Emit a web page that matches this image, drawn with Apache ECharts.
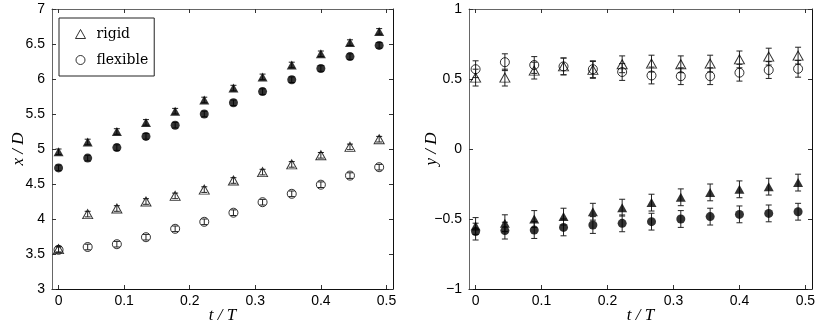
<!DOCTYPE html>
<html>
<head>
<meta charset="utf-8">
<script src="https://cdn.jsdelivr.net/npm/echarts@6/dist/echarts.min.js"></script>
<style>
  html, body { margin: 0; padding: 0; background: #fff; }
  #chart { width: 831px; height: 333px; }
</style>
</head>
<body>
<div id="chart"></div>
<script>
// time instants t/T
const tT = [0, 0.0444, 0.0889, 0.1333, 0.1778, 0.2222, 0.2667, 0.3111, 0.3556, 0.4, 0.4444, 0.4889]
const xTicks = [0, 0.1, 0.2, 0.3, 0.4, 0.5]
const xDTicks = [3, 3.5, 4, 4.5, 5, 5.5, 6, 6.5, 7]
const yDTicks = [-1, -0.5, 0, 0.5, 1]

// left panel: x/D
const xRigidFilled = [4.96, 5.10, 5.25, 5.38, 5.54, 5.70, 5.87, 6.03, 6.20, 6.36, 6.52, 6.68]
const xFlexFilled = [4.73, 4.87, 5.02, 5.18, 5.34, 5.50, 5.66, 5.82, 5.99, 6.15, 6.32, 6.48]
const xRigidOpen = [3.57, 4.07, 4.15, 4.25, 4.33, 4.42, 4.55, 4.67, 4.78, 4.91, 5.03, 5.14]
const xFlexOpen = [3.56, 3.60, 3.64, 3.74, 3.86, 3.96, 4.09, 4.24, 4.36, 4.49, 4.62, 4.74]
const xRigidFilledErr = [0.04, 0.04, 0.04, 0.04, 0.04, 0.04, 0.04, 0.04, 0.04, 0.04, 0.04, 0.04]
const xFlexFilledErr = [0.04, 0.04, 0.04, 0.04, 0.04, 0.04, 0.04, 0.04, 0.04, 0.04, 0.04, 0.04]
const xRigidOpenErr = [0.04, 0.04, 0.04, 0.04, 0.04, 0.04, 0.04, 0.04, 0.04, 0.04, 0.04, 0.04]
const xFlexOpenErr = [0.04, 0.04, 0.04, 0.04, 0.04, 0.04, 0.04, 0.04, 0.04, 0.04, 0.04, 0.04]

// right panel: y/D
const yRigidOpen = [0.51, 0.51, 0.56, 0.59, 0.565, 0.605, 0.61, 0.605, 0.61, 0.64, 0.66, 0.667]
const yFlexOpen = [0.57, 0.62, 0.60, 0.59, 0.57, 0.55, 0.525, 0.52, 0.52, 0.545, 0.564, 0.573]
const yRigidFilled = [-0.55, -0.53, -0.50, -0.483, -0.448, -0.419, -0.383, -0.345, -0.31, -0.288, -0.269, -0.24]
const yFlexFilled = [-0.59, -0.583, -0.579, -0.56, -0.543, -0.531, -0.519, -0.5, -0.483, -0.467, -0.46, -0.448]
const yRigidOpenErr = [0.06, 0.06, 0.06, 0.06, 0.06, 0.06, 0.06, 0.06, 0.06, 0.06, 0.06, 0.06]
const yFlexOpenErr = [0.06, 0.06, 0.06, 0.06, 0.06, 0.06, 0.06, 0.06, 0.06, 0.06, 0.06, 0.06]
const yRigidFilledErr = [0.06, 0.06, 0.06, 0.06, 0.06, 0.06, 0.06, 0.06, 0.06, 0.06, 0.06, 0.06]
const yFlexFilledErr = [0.06, 0.06, 0.06, 0.06, 0.06, 0.06, 0.06, 0.06, 0.06, 0.06, 0.06, 0.06]

const chart = echarts.init(document.getElementById('chart'))

const tickFont = { fontFamily: '"Liberation Sans", Arial, sans-serif', fontSize: 14, color: '#000' }
const nameFont = { fontFamily: '"Liberation Serif", serif', fontStyle: 'italic', fontSize: 17, color: '#000' }
const minus = v => String(v).replace('-', '\u2212')

const xAxisFor = (grid, pos) => ({
  type: 'value',
  gridIndex: grid,
  position: pos,
  min: -0.01,
  max: 0.51,
  name: pos === 'bottom' ? 't / T' : '',
  nameLocation: 'middle',
  nameGap: 18,
  nameMoveOverlap: false,
  nameTextStyle: nameFont,
  axisLine: { show: true, onZero: false, lineStyle: { color: pos === 'bottom' ? '#111' : '#666', width: 1 } },
  axisTick: { show: true, inside: true, length: 4, customValues: xTicks, lineStyle: { color: '#333' } },
  axisLabel: { show: pos === 'bottom', margin: 5, customValues: xTicks, ...tickFont },
  splitLine: { show: false },
})

const yAxisFor = (grid, pos, ticks, name, gap) => ({
  type: 'value',
  gridIndex: grid,
  position: pos,
  min: ticks[0],
  max: ticks[ticks.length - 1],
  name: pos === 'left' ? name : '',
  nameLocation: 'middle',
  nameGap: gap,
  nameMoveOverlap: false,
  nameTextStyle: nameFont,
  axisLine: { show: true, onZero: false, lineStyle: { color: pos === 'left' ? '#666' : '#111', width: 1 } },
  axisTick: { show: true, inside: true, length: 4, customValues: ticks, lineStyle: { color: '#333' } },
  axisLabel: { show: pos === 'left', margin: 7, customValues: ticks, formatter: minus, ...tickFont },
  splitLine: { show: false },
})

const zip = (vals, errs) => tT.map((t, i) => [t, vals[i], errs[i]])

const errorBars = (xi, yi, vals, errs) => ({
  type: 'custom',
  xAxisIndex: xi,
  yAxisIndex: yi,
  silent: true,
  z: 1,
  data: zip(vals, errs),
  renderItem: (params, api) => {
    const x = api.value(0)
    const y = api.value(1)
    const e = api.value(2)
    const hi = api.coord([x, y + e])
    const lo = api.coord([x, y - e])
    const w = 3
    const style = { stroke: '#222', lineWidth: 1 }
    return {
      type: 'group',
      children: [
        { type: 'line', shape: { x1: hi[0], y1: hi[1], x2: lo[0], y2: lo[1] }, style },
        { type: 'line', shape: { x1: hi[0] - w, y1: hi[1], x2: hi[0] + w, y2: hi[1] }, style },
        { type: 'line', shape: { x1: lo[0] - w, y1: lo[1], x2: lo[0] + w, y2: lo[1] }, style },
      ],
    }
  },
})

const marks = (name, xi, yi, vals, errs, symbol, filled) => ({
  type: 'scatter',
  name,
  xAxisIndex: xi,
  yAxisIndex: yi,
  z: 3,
  symbol,
  symbolSize: symbol === 'triangle' ? [10, 9] : 9,
  data: zip(vals, errs),
  itemStyle: filled
    ? { color: '#000' }
    : { color: 'rgba(0,0,0,0)', borderColor: '#000', borderWidth: 1 },
})

const option = {
  animation: false,
  backgroundColor: '#fff',
  grid: [
    { left: 52, right: 438, top: 9, bottom: 44 },
    { left: 469, right: 19, top: 9, bottom: 44 },
  ],
  xAxis: [
    xAxisFor(0, 'bottom'),
    xAxisFor(0, 'top'),
    xAxisFor(1, 'bottom'),
    xAxisFor(1, 'top'),
  ],
  yAxis: [
    yAxisFor(0, 'left', xDTicks, 'x / D', 25),
    yAxisFor(0, 'right', xDTicks, '', 0),
    yAxisFor(1, 'left', yDTicks, 'y / D', 29),
    yAxisFor(1, 'right', yDTicks, '', 0),
  ],
  legend: {
    left: 59,
    top: 18,
    orient: 'vertical',
    backgroundColor: '#fff',
    borderColor: '#222',
    borderWidth: 1,
    padding: [9, 6, 9, 16],
    itemGap: 12,
    itemWidth: 10,
    itemHeight: 9,
    textStyle: { fontFamily: '"DejaVu Serif", serif', fontSize: 14, color: '#000', padding: [0, 0, 0, 6] },
    data: [
      { name: 'rigid', icon: 'triangle', itemStyle: { color: 'rgba(0,0,0,0)', borderColor: '#000', borderWidth: 1 } },
      { name: 'flexible', icon: 'circle', itemStyle: { color: 'rgba(0,0,0,0)', borderColor: '#000', borderWidth: 1 } },
    ],
  },
  series: [
    errorBars(0, 0, xRigidFilled, xRigidFilledErr),
    errorBars(0, 0, xFlexFilled, xFlexFilledErr),
    errorBars(0, 0, xRigidOpen, xRigidOpenErr),
    errorBars(0, 0, xFlexOpen, xFlexOpenErr),
    marks('rigid x', 0, 0, xRigidFilled, xRigidFilledErr, 'triangle', true),
    marks('flexible x', 0, 0, xFlexFilled, xFlexFilledErr, 'circle', true),
    marks('rigid', 0, 0, xRigidOpen, xRigidOpenErr, 'triangle', false),
    marks('flexible', 0, 0, xFlexOpen, xFlexOpenErr, 'circle', false),

    errorBars(2, 2, yRigidOpen, yRigidOpenErr),
    errorBars(2, 2, yFlexOpen, yFlexOpenErr),
    errorBars(2, 2, yRigidFilled, yRigidFilledErr),
    errorBars(2, 2, yFlexFilled, yFlexFilledErr),
    marks('rigid', 2, 2, yRigidOpen, yRigidOpenErr, 'triangle', false),
    marks('flexible', 2, 2, yFlexOpen, yFlexOpenErr, 'circle', false),
    marks('rigid y', 2, 2, yRigidFilled, yRigidFilledErr, 'triangle', true),
    marks('flexible y', 2, 2, yFlexFilled, yFlexFilledErr, 'circle', true),
  ],
}

chart.setOption(option)
</script>
</body>
</html>
